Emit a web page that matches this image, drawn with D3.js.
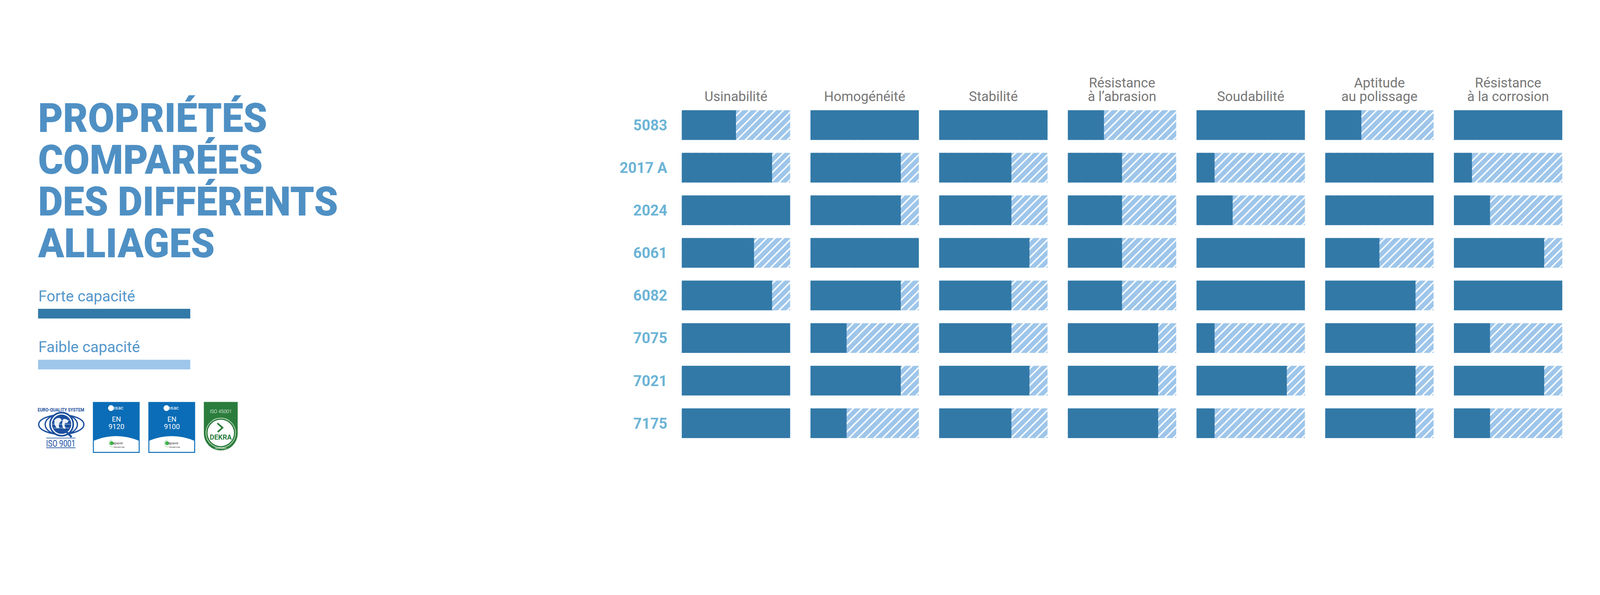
<!DOCTYPE html>
<html>
<head>
<meta charset="utf-8">
<script src="https://cdn.jsdelivr.net/npm/d3@7"></script>
<style>
  html, body { margin: 0; padding: 0; background: #fff; overflow: hidden; }
  svg { display: block; width: 100vw; height: auto; }
</style>
</head>
<body>
<svg id="chart"></svg>
<script>
const width = 4961;
const height = 1524;

// data
const alloys = ["5083", "2017 A", "2024", "6061", "6082", "7075", "7021", "7175"];
const properties = ["usin", "homog", "stab", "abrasion", "soud", "polis", "corr"];
const propertyLabels = [
  ["Usinabilité"],
  ["Homogénéité"],
  ["Stabilité"],
  ["Résistance", "à l’abrasion"],
  ["Soudabilité"],
  ["Aptitude", "au polissage"],
  ["Résistance", "à la corrosion"]
];
const maxLevel = 6;
// one row per alloy, one value per property (out of 6)
const levels = [
  [3, 6, 6, 2, 6, 2, 6],
  [5, 5, 4, 3, 1, 6, 1],
  [6, 5, 4, 3, 2, 6, 2],
  [4, 6, 5, 3, 6, 3, 5],
  [5, 5, 4, 3, 6, 5, 6],
  [6, 2, 4, 5, 1, 5, 2],
  [6, 5, 5, 5, 5, 5, 5],
  [6, 2, 4, 5, 1, 5, 2]
];
const titleLines = ["PROPRIÉTÉS", "COMPARÉES", "DES DIFFÉRENTS", "ALLIAGES"];
const legendItems = ["Forte capacité", "Faible capacité"];

const DARK = "#3279a7";
const LIGHT = "#9ec6ea";

const svg = d3.select("#chart")
  .attr("viewBox", `0 0 ${width} ${height}`)
  .attr("preserveAspectRatio", "xMidYMid meet")
  .style("font-family", "Roboto, 'DejaVu Sans', sans-serif");

svg.append("rect").attr("width", width).attr("height", height).attr("fill", "#fff");

const defs = svg.append("defs");
const hatch = defs.append("pattern")
  .attr("id", "hatch")
  .attr("patternUnits", "userSpaceOnUse")
  .attr("width", 18.4)
  .attr("height", 18.4)
  .attr("patternTransform", "rotate(45)");
hatch.append("rect").attr("width", 18.4).attr("height", 18.4).attr("fill", LIGHT);
hatch.append("rect").attr("width", 4.4).attr("height", 18.4).attr("fill", "#fff");

// scales
const x = d3.scaleBand().domain(properties).range([2114, 4844]).paddingInner(0.158);
const y = d3.scaleBand().domain(alloys).range([342, 1359]).paddingInner(0.303);
const w = d3.scaleLinear().domain([0, maxLevel]).range([0, x.bandwidth()]);

// title
svg.append("g")
  .attr("transform", "translate(118,0) scale(0.95,1)")
  .selectAll("text")
  .data(titleLines)
  .join("text")
  .attr("x", 0)
  .attr("y", (d, i) => 410 + i * 129.3)
  .attr("fill", "#4f90c4")
  .attr("font-size", 125)
  .attr("font-weight", 900)
  .text(d => d);

// legend
const legend = svg.append("g")
  .selectAll("g")
  .data(legendItems)
  .join("g")
  .attr("transform", (d, i) => `translate(118, ${935 + i * 158})`);

legend.append("text")
  .attr("x", 1)
  .attr("fill", "#5497cb")
  .attr("font-size", 47)
  .attr("font-weight", 400)
  .text(d => d);

legend.append("rect")
  .attr("y", 23)
  .attr("width", 472)
  .attr("height", 30)
  .attr("fill", (d, i) => i === 0 ? DARK : LIGHT);

// column headers
const header = svg.append("g")
  .selectAll("text")
  .data(propertyLabels)
  .join("text")
  .attr("x", (d, i) => x(properties[i]) + x.bandwidth() / 2)
  .attr("text-anchor", "middle")
  .attr("fill", "#777")
  .attr("font-size", 42)
  .attr("font-weight", 400);

header.selectAll("tspan")
  .data(d => d.map((t, j) => ({ t, j, n: d.length })))
  .join("tspan")
  .attr("x", function() { return this.parentNode.getAttribute("x"); })
  .attr("y", d => 314 - (d.n - 1 - d.j) * 43)
  .text(d => d.t);

// row labels
svg.append("g")
  .selectAll("text")
  .data(alloys)
  .join("text")
  .attr("x", 2069)
  .attr("y", d => y(d) + y.bandwidth() / 2 + 16.5)
  .attr("text-anchor", "end")
  .attr("fill", "#6cb4d6")
  .attr("font-size", 46)
  .attr("font-weight", 700)
  .text(d => d);

// bars
const cells = [];
levels.forEach((row, i) => {
  row.forEach((v, j) => cells.push({ alloy: alloys[i], prop: properties[j], value: v }));
});

const cell = svg.append("g")
  .selectAll("g")
  .data(cells)
  .join("g")
  .attr("transform", d => `translate(${x(d.prop)}, ${y(d.alloy)})`);

cell.append("rect")
  .attr("width", x.bandwidth())
  .attr("height", y.bandwidth())
  .attr("fill", "url(#hatch)");

cell.append("rect")
  .attr("width", d => w(d.value))
  .attr("height", y.bandwidth())
  .attr("fill", DARK);

// certification logos
const logos = svg.append("g");

// euro-quality system
const eq = logos.append("g").attr("fill", "none").attr("stroke", "#1d4f9e");
eq.append("text")
  .attr("x", 117).attr("y", 1276)
  .attr("stroke", "none").attr("fill", "#1d4f9e")
  .attr("font-size", 15).attr("font-weight", 700)
  .attr("textLength", 144).attr("lengthAdjust", "spacingAndGlyphs")
  .text("EURO-QUALITY SYSTEM");
eq.append("ellipse").attr("cx", 190).attr("cy", 1317).attr("rx", 70).attr("ry", 30).attr("stroke-width", 4);
eq.append("ellipse").attr("cx", 190).attr("cy", 1317).attr("rx", 50).attr("ry", 32).attr("stroke-width", 4);
eq.append("circle").attr("cx", 191).attr("cy", 1316).attr("r", 36).attr("fill", "#fff").attr("stroke-width", 5);
eq.append("circle").attr("cx", 191).attr("cy", 1316).attr("r", 30).attr("fill", "#1d4f9e").attr("stroke", "none");
eq.append("path")
  .attr("d", "M170,1302 q8,-8 18,-4 q6,6 -2,12 q-6,8 -2,16 q-8,6 -12,-4 q-6,-8 -2,-20 Z M196,1300 q10,-2 16,6 q-2,8 -10,6 q-4,8 2,16 q-6,6 -10,-4 q-4,-10 2,-24 Z")
  .attr("fill", "#fff").attr("stroke", "none").attr("opacity", 0.9);
eq.append("path").attr("d", "M162,1316 H220 M166,1304 H216 M166,1328 H216").attr("stroke", "#fff").attr("stroke-width", 1);
eq.append("line").attr("x1", 206).attr("y1", 1340).attr("x2", 222).attr("y2", 1356).attr("stroke-width", 6);
eq.append("line").attr("x1", 143).attr("y1", 1359).attr("x2", 234).attr("y2", 1359).attr("stroke-width", 2);
eq.append("line").attr("x1", 143).attr("y1", 1389).attr("x2", 234).attr("y2", 1389).attr("stroke-width", 2);
eq.append("text")
  .attr("x", 143).attr("y", 1385)
  .attr("stroke", "none").attr("fill", "#1d4f9e")
  .attr("font-size", 28)
  .attr("textLength", 91).attr("lengthAdjust", "spacingAndGlyphs")
  .text("ISO 9001");

// osac boxes
const osacData = ["9120", "9100"];
const osac = logos.selectAll("g.osac")
  .data(osacData)
  .join("g")
  .attr("class", "osac")
  .attr("transform", (d, i) => `translate(${288 + i * 172}, 1247)`);

osac.append("rect").attr("width", 145).attr("height", 158).attr("fill", "#0b6db7");
osac.append("path").attr("d", "M3,120 Q72,92 142,120 V155 H3 Z").attr("fill", "#fff");
osac.append("circle").attr("cx", 56).attr("cy", 19).attr("r", 9).attr("fill", "#fff");
osac.append("text").attr("x", 60).attr("y", 24).attr("fill", "#fff").attr("font-size", 16).text("osac");
osac.append("text").attr("x", 73).attr("y", 61).attr("text-anchor", "middle").attr("fill", "#fff").attr("font-size", 22).text("EN");
osac.append("text").attr("x", 73).attr("y", 84).attr("text-anchor", "middle").attr("fill", "#fff").attr("font-size", 22).text(d => d);
osac.append("path").attr("d", "M60,118 A10,10 0 0 0 62,140").attr("fill", "none").attr("stroke", "#9fd59f").attr("stroke-width", 1.5);
osac.append("circle").attr("cx", 58).attr("cy", 128).attr("r", 6).attr("fill", "#3db54a");
osac.append("text").attr("x", 61).attr("y", 131).attr("fill", "#444").attr("font-size", 12).text("apave");
osac.append("text").attr("x", 81).attr("y", 142).attr("text-anchor", "middle").attr("fill", "#444").attr("font-size", 6).text("Aeroservices");

// dekra
const dk = logos.append("g");
dk.append("path").attr("d", "M632,1247 H737 V1345 A52.5,52.5 0 0 1 632,1345 Z").attr("fill", "#2b7d3d");
dk.append("circle").attr("cx", 684.5).attr("cy", 1343).attr("r", 46).attr("fill", "none").attr("stroke", "#cfe6cf").attr("stroke-width", 2);
dk.append("circle").attr("cx", 684.5).attr("cy", 1343).attr("r", 41).attr("fill", "#fff");
dk.append("text").attr("x", 684.5).attr("y", 1281).attr("text-anchor", "middle").attr("fill", "#fff").attr("font-size", 15).attr("font-weight", 300).text("ISO 45001");
dk.append("polyline").attr("points", "674,1313 690,1327 675,1340").attr("fill", "none").attr("stroke", "#2b7d3d").attr("stroke-width", 5);
dk.append("text").attr("x", 684.5).attr("y", 1364).attr("text-anchor", "middle").attr("fill", "#2b7d3d").attr("font-size", 22).attr("font-weight", 700)
  .attr("textLength", 68).attr("lengthAdjust", "spacingAndGlyphs").text("DEKRA");
dk.append("text").attr("x", 684.5).attr("y", 1393).attr("text-anchor", "middle").attr("fill", "#fff").attr("font-size", 7).attr("font-style", "italic").text("Certification");
</script>
</body>
</html>
